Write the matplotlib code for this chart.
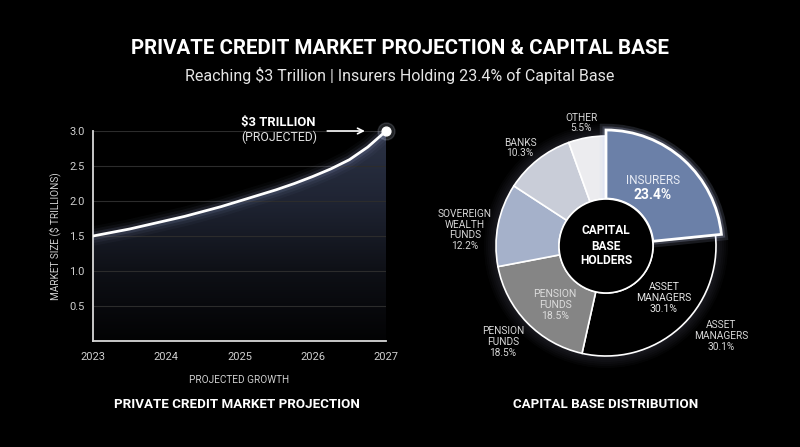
import matplotlib.pyplot as plt
import matplotlib.patheffects as pe
import numpy as np
from matplotlib.colors import LinearSegmentedColormap

plt.rcParams['font.family'] = ['Roboto', 'DejaVu Sans']

# line chart data (at quarter-year steps)
years = [2023, 2023.25, 2023.5, 2023.75, 2024, 2024.25, 2024.5, 2024.75, 2025,
         2025.25, 2025.5, 2025.75, 2026, 2026.25, 2026.5, 2026.75, 2027]
market_size = [1.5, 1.55, 1.6, 1.66, 1.72, 1.78, 1.85, 1.92, 2.0,
               2.08, 2.16, 2.25, 2.35, 2.46, 2.59, 2.77, 3.0]
year_ticks = [2023, 2024, 2025, 2026, 2027]
y_ticks = [0.5, 1.0, 1.5, 2.0, 2.5, 3.0]

# donut data, clockwise from top
holders = ['INSURERS', 'ASSET\nMANAGERS', 'PENSION\nFUNDS', 'SOVEREIGN\nWEALTH\nFUNDS', 'BANKS', 'OTHER']
shares = [23.4, 30.1, 18.5, 12.2, 10.3, 5.5]
colors = ['#6b80a8', '#000000', '#858585', '#a5b1ca', '#c9cdd8', '#ececef']

W, H = 800, 447
fig = plt.figure(figsize=(8, 4.47), dpi=100)
fig.patch.set_facecolor('black')

def fy(y):
    return 1 - y / H

fig.text(0.5, fy(48), 'PRIVATE CREDIT MARKET PROJECTION & CAPITAL BASE', ha='center', va='center',
         color='white', fontsize=14.8, fontweight='bold')
fig.text(0.5, fy(75), 'Reaching $3 Trillion | Insurers Holding 23.4% of Capital Base', ha='center',
         va='center', color='#e6e6e6', fontsize=11.5)

# ---- left: line chart
ax = fig.add_axes([93 / W, 106 / H, 293 / W, 210 / H])
ax.set_facecolor('black')
ax.set_xlim(2023, 2027)
ax.set_ylim(0, 3.0)

# gradient fill under the curve
cmap = LinearSegmentedColormap.from_list('fill', ['#030304', '#0e1016', '#1f2433', '#2c3346'])
grad = np.linspace(0, 1, 256).reshape(-1, 1)
img = ax.imshow(grad, extent=[2023, 2027, 0, 3.0], origin='lower', aspect='auto', cmap=cmap, zorder=1)
poly = ax.fill_between(years, 0, market_size, color='none')
img.set_clip_path(poly.get_paths()[0], transform=ax.transData)

for y in y_ticks:
    ax.axhline(y, color='#2c2c2c', lw=0.8, zorder=2)

for lw, a in [(14, 0.03), (10, 0.05), (6, 0.1)]:
    ax.plot(years, market_size, color='#b8c8ff', lw=lw, alpha=a, solid_capstyle='round',
            solid_joinstyle='round', zorder=3)
ax.plot(years, market_size, color='white', lw=2, solid_capstyle='round', solid_joinstyle='round', zorder=4)
ax.scatter([years[-1]], [market_size[-1]], s=150, color='#dde6ff', alpha=0.15, zorder=5, clip_on=False)
ax.scatter([years[-1]], [market_size[-1]], s=40, color='white', zorder=6, clip_on=False)

ax.text(2025.02, 3.12, '$3 TRILLION', ha='left', va='center', color='white', fontsize=9.4,
        fontweight='bold', zorder=7)
ax.text(2025.02, 2.91, '(PROJECTED)', ha='left', va='center', color='#e0e0e0', fontsize=8.8, zorder=7)
ax.annotate('', xy=(2026.75, 3.0), xytext=(2026.16, 3.0),
            arrowprops=dict(arrowstyle='->', color='white', lw=1.2), annotation_clip=False)

ax.set_xticks(year_ticks)
ax.set_xticklabels([str(y) for y in year_ticks])
ax.set_yticks(y_ticks)
ax.tick_params(colors='#cfcfcf', labelsize=8, length=0)
ax.tick_params(axis='y', pad=6)
ax.tick_params(axis='x', pad=8)
for s in ['top', 'right']:
    ax.spines[s].set_visible(False)
for s in ['left', 'bottom']:
    ax.spines[s].set_color('#d8d8d8')
    ax.spines[s].set_linewidth(1.3)
ax.set_ylabel('MARKET SIZE ($ TRILLIONS)', color='#cfcfcf', fontsize=7.2, labelpad=6)
ax.set_xlabel('PROJECTED GROWTH', color='#cfcfcf', fontsize=7.2, labelpad=9)

fig.text(237 / W, fy(404), 'PRIVATE CREDIT MARKET PROJECTION', ha='center', va='center',
         color='white', fontsize=9.6, fontweight='bold')

# ---- right: donut
ax2 = fig.add_axes([0.5, 0, 0.5, 1])
ax2.set_facecolor('none')
cx, cy, r, r_in = 606, H - 246, 110, 47
for rr in range(122, 110, -2):
    ax2.add_patch(plt.Circle((cx, cy), rr, color='#c8d4ff', alpha=0.025, lw=0))
wedges, _ = ax2.pie(shares, colors=colors, startangle=90, counterclock=False, center=(cx, cy),
                    radius=r, wedgeprops=dict(width=r - r_in, edgecolor='white', linewidth=1.2))
wedges[0].set_radius(116)
wedges[0].set_width(116 - r_in)
wedges[0].set_linewidth(2)
wedges[0].set_zorder(3)
wedges[0].set_path_effects([pe.Stroke(linewidth=9, foreground='#c8d4ff', alpha=0.12),
                            pe.Stroke(linewidth=5, foreground='#c8d4ff', alpha=0.2), pe.Normal()])
ax2.add_patch(plt.Circle((cx, cy), r_in, facecolor='black', edgecolor='white', lw=1.2, zorder=4))
ax2.set_xlim(400, 800)
ax2.set_ylim(0, H)
ax2.set_aspect('equal')
ax2.axis('off')

ax2.text(cx, cy, 'CAPITAL\nBASE\nHOLDERS', ha='center', va='center', color='white', fontsize=8.6,
         fontweight='bold', linespacing=1.2, zorder=5)

# inner labels
ax2.text(653, H - 180, holders[0], ha='center', va='center', color='#e8ecf5', fontsize=8.5, zorder=5)
ax2.text(653, H - 195, f'{shares[0]}%', ha='center', va='center', color='white', fontsize=10,
         fontweight='bold', zorder=5)
ax2.text(664, H - 298, f'{holders[1]}\n{shares[1]}%', ha='center', va='center', color='#e6e6e6',
         fontsize=7.5, linespacing=1.1, zorder=5)
ax2.text(555, H - 305, f'{holders[2]}\n{shares[2]}%', ha='center', va='center', color='#dcdcdc',
         fontsize=7.5, linespacing=1.1, zorder=5)

# outer labels
outer = [(1, 721, 336), (2, 503, 342), (3, 465, 230), (4, 520, 148), (5, 581, 123)]
for i, x, y in outer:
    ax2.text(x, H - y, f'{holders[i]}\n{shares[i]}%', ha='center', va='center', color='#d6d6d6',
             fontsize=7.3, linespacing=1.1)

fig.text(606 / W, fy(404), 'CAPITAL BASE DISTRIBUTION', ha='center', va='center',
         color='white', fontsize=9.6, fontweight='bold')

fig.savefig('out.png', dpi=100, facecolor='black')
